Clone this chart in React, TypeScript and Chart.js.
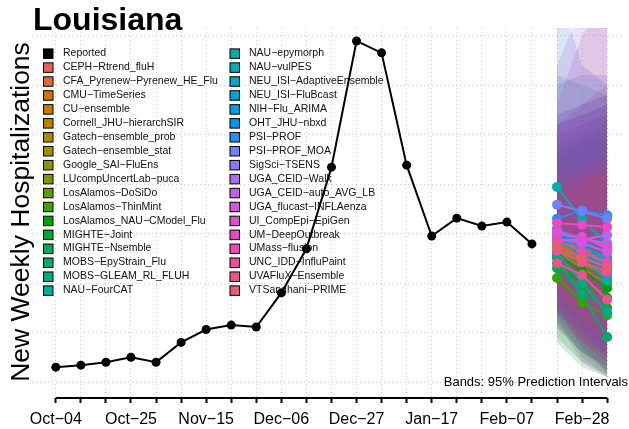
import React, { useEffect, useRef } from 'react';
import { Chart, registerables } from 'chart.js';

Chart.register(...registerables);

// ---------------- data ----------------
const reportedWeeks = [0, 1, 2, 3, 4, 5, 6, 7, 8, 9, 10, 11, 12, 13, 14, 15, 16, 17, 18, 19];
const reported = [30, 34, 40, 50, 40, 80, 106, 115, 111, 180, 269, 434, 689, 665, 438, 295, 331, 315, 323, 279];

const axisWeeks = [0, 1, 2, 3, 4, 5, 6, 7, 8, 9, 10, 11, 12, 13, 14, 15, 16, 17, 18, 19, 20, 21, 22];
const tickWeeks = [0, 3, 6, 9, 12, 15, 18, 21];
const tickLabels = ['Oct−04', 'Oct−25', 'Nov−15', 'Dec−06', 'Dec−27', 'Jan−17', 'Feb−07', 'Feb−28'];
const gridValues = [0, 100, 200, 300, 400, 500, 600, 700];

const forecastWeeks = [20, 21, 22];

const models = [
  'CEPH−Rtrend_fluH', 'CFA_Pyrenew−Pyrenew_HE_Flu', 'CMU−TimeSeries', 'CU−ensemble',
  'Cornell_JHU−hierarchSIR', 'Gatech−ensemble_prob', 'Gatech−ensemble_stat', 'Google_SAI−FluEns',
  'LUcompUncertLab−puca', 'LosAlamos−DoSiDo', 'LosAlamos−ThinMint', 'LosAlamos_NAU−CModel_Flu',
  'MIGHTE−Joint', 'MIGHTE−Nsemble', 'MOBS−EpyStrain_Flu', 'MOBS−GLEAM_RL_FLUH',
  'NAU−FourCAT', 'NAU−epymorph', 'NAU−vulPES', 'NEU_ISI−AdaptiveEnsemble',
  'NEU_ISI−FluBcast', 'NIH−Flu_ARIMA', 'OHT_JHU−nbxd', 'PSI−PROF',
  'PSI−PROF_MOA', 'SigSci−TSENS', 'UGA_CEID−Walk', 'UGA_CEID−auto_AVG_LB',
  'UGA_flucast−INFLAenza', 'UI_CompEpi−EpiGen', 'UM−DeepOutbreak', 'UMass−flusion',
  'UNC_IDD−InfluPaint', 'UVAFluX−Ensemble', 'VTSandhani−PRIME',
];

// medians per horizon (1, 2, 3 weeks ahead)
const medianH1 = [290, 285, 280, 275, 290, 280, 282, 270, 265, 278, 210, 255, 240, 230, 250, 262, 300, 394, 303, 310, 295, 285, 300, 330, 358, 300, 287, 300, 290, 305, 321, 287, 265, 240, 275];
const medianH2 = [270, 262, 255, 240, 265, 262, 258, 240, 230, 245, 160, 225, 200, 180, 176, 200, 250, 327, 275, 285, 270, 258, 280, 347, 345, 290, 287, 293, 280, 290, 317, 262, 242, 216, 250];
const medianH3 = [250, 240, 230, 215, 245, 245, 238, 212, 200, 222, 135, 190, 170, 150, 91, 140, 205, 280, 250, 262, 215, 235, 240, 337, 330, 280, 297, 270, 262, 275, 313, 242, 222, 166, 232];

// 95% prediction interval bounds per horizon
const lowerH1 = [180, 170, 160, 150, 190, 170, 180, 160, 140, 170, 110, 120, 90, 79, 130, 140, 180, 220, 170, 160, 150, 140, 160, 180, 200, 150, 110, 130, 140, 120, 150, 180, 170, 150, 190];
const lowerH2 = [120, 110, 100, 90, 130, 120, 125, 100, 80, 110, 60, 60, 40, 30, 50, 70, 120, 150, 120, 110, 100, 90, 110, 150, 160, 100, 60, 80, 90, 40, 70, 130, 110, 80, 140];
const lowerH3 = [80, 70, 60, 50, 90, 80, 85, 60, 40, 70, 30, 20, 15, 10, 10, 20, 70, 100, 80, 70, 50, 50, 60, 120, 130, 60, 30, 40, 50, 8, 20, 90, 70, 40, 100];
const upperH1 = [420, 430, 440, 450, 410, 420, 400, 420, 460, 430, 360, 450, 480, 470, 400, 420, 460, 620, 480, 520, 500, 520, 540, 800, 600, 540, 640, 520, 500, 560, 520, 420, 400, 380, 390];
const upperH2 = [440, 450, 460, 480, 430, 440, 420, 440, 490, 450, 370, 470, 510, 490, 410, 440, 480, 600, 500, 540, 520, 540, 560, 640, 620, 560, 760, 540, 520, 700, 560, 440, 420, 400, 410];
const upperH3 = [460, 470, 480, 500, 450, 460, 440, 460, 520, 470, 380, 490, 540, 510, 380, 450, 500, 580, 520, 560, 540, 560, 580, 600, 620, 580, 820, 560, 540, 780, 600, 460, 440, 420, 430];

// ---------------- styling helpers ----------------
function hcl(h: number, c: number, l: number): [number, number, number] {
  const hr = (h * Math.PI) / 180;
  const U = c * Math.cos(hr);
  const V = c * Math.sin(hr);
  const Xn = 95.047, Yn = 100, Zn = 108.883;
  const den = Xn + 15 * Yn + 3 * Zn;
  const un = (4 * Xn) / den, vn = (9 * Yn) / den;
  const Y = l > 8 ? Yn * Math.pow((l + 16) / 116, 3) : (Yn * l) / 903.2963;
  const u = U / (13 * l) + un;
  const v = V / (13 * l) + vn;
  const X = (9 * Y * u) / (4 * v);
  const Z = (Y * (12 - 3 * u - 20 * v)) / (4 * v);
  const x = X / 100, y = Y / 100, z = Z / 100;
  const lin = [
    3.2404542 * x - 1.5371385 * y - 0.4985314 * z,
    -0.969266 * x + 1.8760108 * y + 0.041556 * z,
    0.0556434 * x - 0.2040259 * y + 1.0572252 * z,
  ];
  const g = lin.map((t) => {
    const s = t <= 0.0031308 ? 12.92 * t : 1.055 * Math.pow(t, 1 / 2.4) - 0.055;
    return Math.round(Math.min(1, Math.max(0, s)) * 255);
  });
  return [g[0], g[1], g[2]];
}

const FONT = "'Liberation Sans', Arial, Helvetica, sans-serif";

export default function App() {
  const ref = useRef<HTMLCanvasElement>(null);

  useEffect(() => {
    document.body.style.margin = '0';
    const canvas = ref.current;
    if (!canvas) return;

    const hue = (i: number) => 15 + (i * 360) / models.length;
    const solid = models.map((_, i) => {
      const [r, g, b] = hcl(hue(i), 100, 58);
      return `rgb(${r},${g},${b})`;
    });
    const faint = models.map((_, i) => {
      const [r, g, b] = hcl(hue(i), 80, 46);
      return `rgba(${r},${g},${b},0.17)`;
    });

    const datasets: any[] = [];
    let seq = 0;
    const nextOrder = () => 100000 - seq++;

    models.forEach((m, i) => {
      const lo = [lowerH1[i], lowerH2[i], lowerH3[i]];
      const hi = [upperH1[i], upperH2[i], upperH3[i]];
      datasets.push({
        label: m + ' lower',
        data: forecastWeeks.map((w, k) => ({ x: w, y: lo[k] })),
        borderColor: 'transparent',
        borderWidth: 0,
        pointRadius: 0,
        fill: false,
        order: nextOrder(),
      });
      datasets.push({
        label: m + ' upper',
        data: forecastWeeks.map((w, k) => ({ x: w, y: hi[k] })),
        borderColor: 'transparent',
        borderWidth: 0,
        pointRadius: 0,
        backgroundColor: faint[i],
        fill: '-1',
        order: nextOrder(),
      });
    });

    models.forEach((m, i) => {
      const md = [medianH1[i], medianH2[i], medianH3[i]];
      datasets.push({
        label: m,
        data: forecastWeeks.map((w, k) => ({ x: w, y: md[k] })),
        borderColor: solid[i],
        borderWidth: 2,
        pointRadius: 5,
        pointBackgroundColor: solid[i],
        pointBorderWidth: 0,
        fill: false,
        order: nextOrder(),
      });
    });

    datasets.push({
      label: 'Reported',
      data: reportedWeeks.map((w, k) => ({ x: w, y: reported[k] })),
      borderColor: '#000',
      borderWidth: 2,
      pointRadius: 4.5,
      pointBackgroundColor: '#000',
      pointBorderWidth: 0,
      fill: false,
      order: nextOrder(),
    });

    // pixel design: week 0 at x=56, week 22 at x=612 ; chart area 32..629
    const pxPerWeek = (612 - 56) / 22;
    const xMin = -(56 - 32) / pxPerWeek;
    const xMax = 22 + (629 - 612) / pxPerWeek;
    // value 0 at y=382, 100 units = 49.5px ; chart area 28..398
    const pxPerUnit = 0.495;
    const yMin = -(398 - 382) / pxPerUnit;
    const yMax = (382 - 28) / pxPerUnit;

    const legendPlugin = {
      id: 'customLegend',
      beforeDatasetsDraw(chart: any) {
        const ctx = chart.ctx;
        const entries = ['Reported', ...models];
        const cols = ['#000', ...solid];
        ctx.save();
        ctx.font = `10.5px ${FONT}`;
        ctx.textBaseline = 'middle';
        ctx.textAlign = 'left';
        entries.forEach((name, i) => {
          const col = Math.floor(i / 18);
          const row = i % 18;
          const bx = col === 0 ? 43.5 : 230;
          const tx = col === 0 ? 63 : 249;
          const cy = 53.4 + row * 13.94;
          ctx.fillStyle = cols[i];
          ctx.fillRect(bx, cy - 4.5, 9.5, 9.5);
          ctx.strokeStyle = '#000';
          ctx.lineWidth = 1;
          ctx.strokeRect(bx, cy - 4.5, 9.5, 9.5);
          ctx.fillStyle = '#111';
          ctx.fillText(name, tx, cy);
        });
        ctx.restore();
      },
    };

    const textPlugin = {
      id: 'customText',
      afterDraw(chart: any) {
        const ctx = chart.ctx;
        const xs = chart.scales.x;
        ctx.save();
        // x axis line
        ctx.strokeStyle = '#000';
        ctx.lineWidth = 2;
        ctx.beginPath();
        ctx.moveTo(xs.getPixelForValue(axisWeeks[0]), chart.chartArea.bottom);
        ctx.lineTo(xs.getPixelForValue(axisWeeks[axisWeeks.length - 1]), chart.chartArea.bottom);
        ctx.stroke();
        // title
        ctx.fillStyle = '#000';
        ctx.font = `bold 32px ${FONT}`;
        ctx.textAlign = 'left';
        ctx.textBaseline = 'alphabetic';
        ctx.fillText('Louisiana', 33, 30);
        // y title
        ctx.save();
        ctx.translate(29, 212);
        ctx.rotate(-Math.PI / 2);
        ctx.font = `26.5px ${FONT}`;
        ctx.textAlign = 'center';
        ctx.fillText('New Weekly Hospitalizations', 0, 0);
        ctx.restore();
        // band note
        ctx.font = `13px ${FONT}`;
        ctx.textAlign = 'right';
        ctx.fillText('Bands: 95% Prediction Intervals', 628, 386);
        ctx.restore();
      },
    };

    const chart = new Chart(canvas, {
      type: 'line',
      data: { datasets },
      options: {
        animation: false,
        responsive: false,
        devicePixelRatio: 1,
        events: [],
        layout: { padding: { left: 32, right: 0, top: 28, bottom: 0 } },
        plugins: {
          legend: { display: false },
          title: { display: false },
          tooltip: { enabled: false },
        },
        scales: {
          x: {
            type: 'linear',
            min: xMin,
            max: xMax,
            afterBuildTicks: (s: any) => {
              s.ticks = axisWeeks.map((v) => ({ value: v }));
            },
            afterFit: (s: any) => {
              s.height = 31;
            },
            ticks: {
              autoSkip: false,
              maxRotation: 0,
              minRotation: 0,
              padding: 7,
              color: '#000',
              font: { size: 16, family: FONT },
              callback: (v: any) => {
                const i = tickWeeks.indexOf(Number(v));
                return i >= 0 ? tickLabels[i] : '';
              },
            },
            grid: {
              color: '#cfcfcf',
              lineWidth: 1,
              drawTicks: true,
              tickLength: 5,
              tickColor: '#000',
              tickWidth: 2,
              tickBorderDash: [],
            },
            border: { display: false, dash: [1, 3] },
          },
          y: {
            type: 'linear',
            min: yMin,
            max: yMax,
            afterBuildTicks: (s: any) => {
              s.ticks = gridValues.map((v) => ({ value: v }));
            },
            afterFit: (s: any) => {
              s.width = 0;
            },
            ticks: { display: false },
            grid: { color: '#cfcfcf', lineWidth: 1, drawTicks: false },
            border: { display: false, dash: [1, 3] },
          },
        },
      } as any,
      plugins: [legendPlugin, textPlugin],
    });

    return () => chart.destroy();
  }, []);

  return (
    <div style={{ position: 'absolute', left: 0, top: 0, width: 629, height: 429, background: '#fff' }}>
      <canvas ref={ref} width={629} height={429} style={{ display: 'block', width: 629, height: 429 }} />
    </div>
  );
}
